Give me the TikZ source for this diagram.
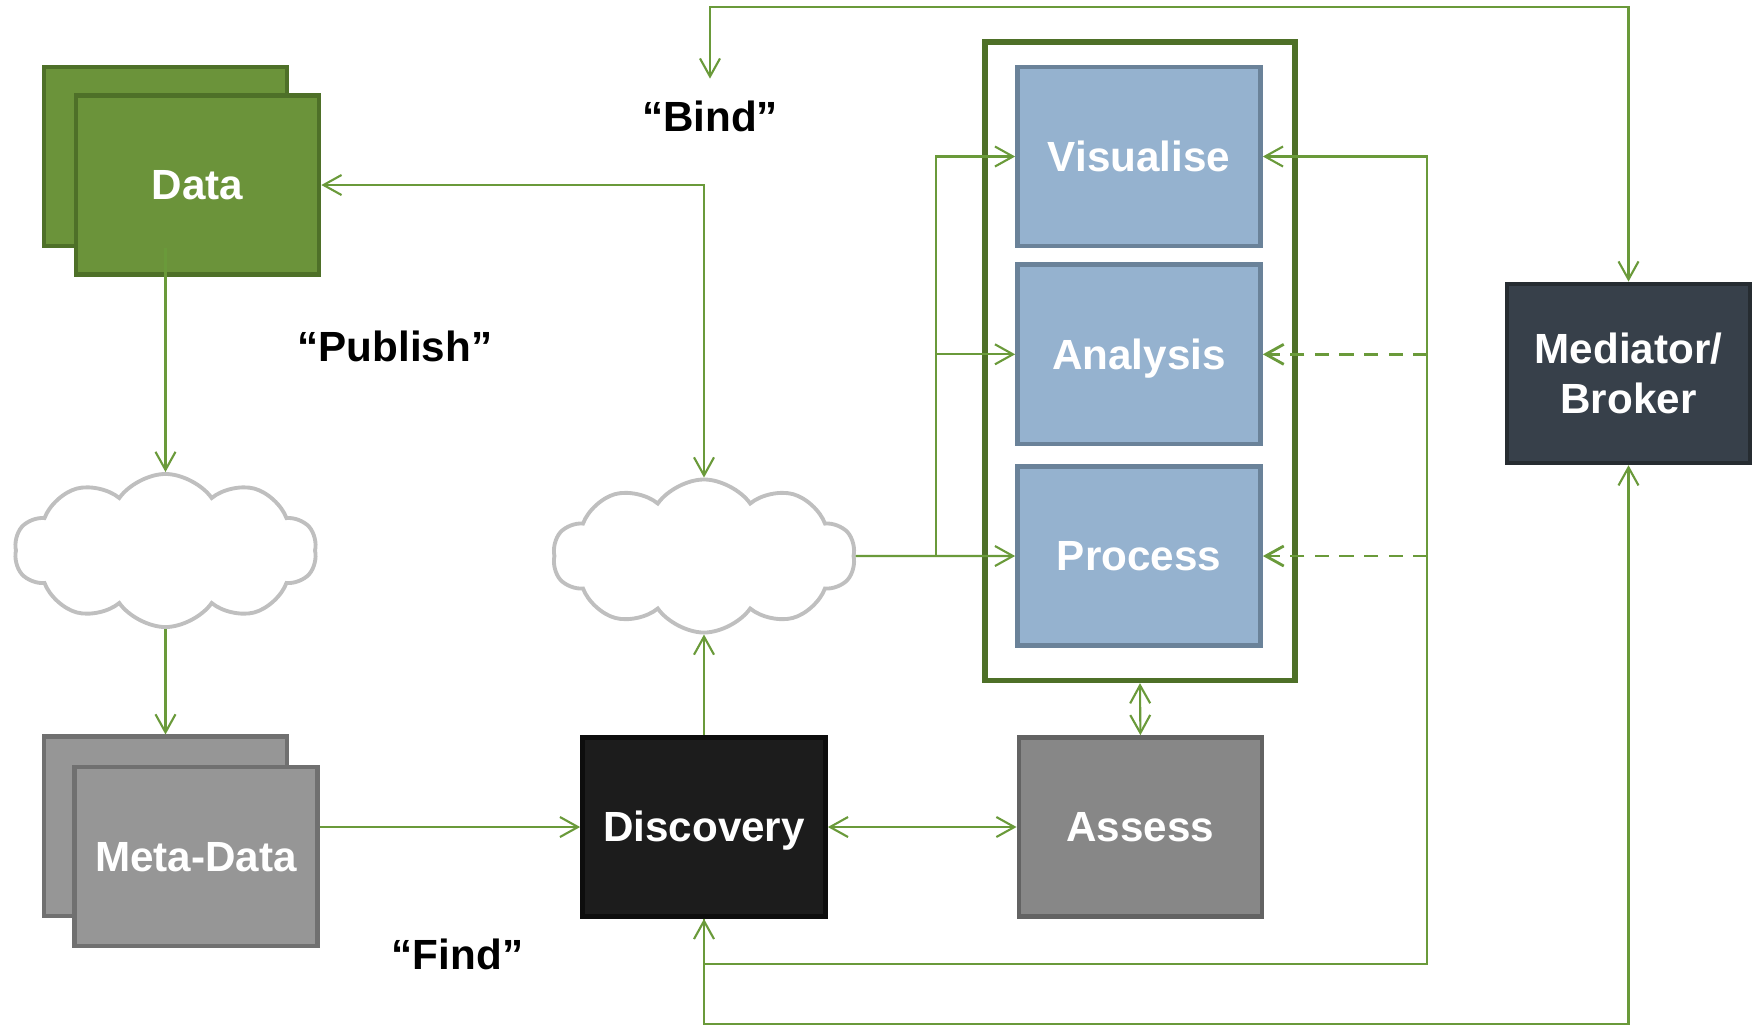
\documentclass[tikz,border=0pt]{standalone}
\usepackage{fontspec}
\setmainfont{Liberation Sans}
\usetikzlibrary{arrows.meta,shapes.symbols}

\definecolor{linkgreen}{HTML}{6A9A3A}
\definecolor{datafill}{HTML}{6B933A}
\definecolor{dataedge}{HTML}{4E7028}
\definecolor{toolfill}{HTML}{95B2CF}
\definecolor{tooledge}{HTML}{6A8299}
\definecolor{metafill}{HTML}{969696}
\definecolor{metaedge}{HTML}{707070}
\definecolor{assessfill}{HTML}{878787}
\definecolor{assessedge}{HTML}{636363}
\definecolor{brokerfill}{HTML}{37404A}
\definecolor{brokeredge}{HTML}{262C31}
\definecolor{cloudgray}{HTML}{BFBFBF}

\tikzset{
	block/.style={rectangle, draw, line width=1.3pt, minimum width=2.43cm, minimum height=1.79cm,
		text=white, font=\fontsize{12}{14}\selectfont\bfseries, align=center},
	tag/.style={block, text height=0.85em, text depth=0pt},
	link/.style={draw=linkgreen, line width=0.6pt},
	dashlink/.style={draw=linkgreen, line width=0.8pt, dash pattern=on 4pt off 3pt},
	web/.style={cloud, cloud puffs=10, cloud puff arc=110, aspect=2, draw=cloudgray, line width=1.1pt,
		minimum width=3.02cm, minimum height=1.53cm},
	verb/.style={font=\fontsize{12}{14}\selectfont\bfseries}
}

\begin{document}
\begin{tikzpicture}[x=0.01cm, y=-0.01cm, >={Straight Barb[length=1.8mm, width=2mm]}]
	\useasboundingbox (0,0) rectangle (1763,1026);

	% Data and meta-data stacks
		\node [tag, fill=datafill, draw=dataedge] (databack) at (165.5,156.5) {};
		\node [tag, fill=datafill, draw=dataedge] (data) at (197.5,185) {Data};
		\node [tag, fill=metafill, draw=metaedge] (metaback) at (165.5,826.3) {};
		\node [tag, fill=metafill, draw=metaedge] (meta) at (196,856.5) {Meta-Data};

	% The two clouds
		\node [web] (webl) at (165.5,550.5) {};
		\node [web] (webr) at (704,556) {};

	% Discovery, assess and the broker
		\node [tag, fill=black!89, draw=black!95] (disc) at (704,827) {Discovery};
		\node [tag, fill=assessfill, draw=assessedge] (assess) at (1140.4,827) {Assess};
		\node [block, fill=brokerfill, draw=brokeredge] (med) at (1628.5,373.4) {Mediator/\\Broker};

	% The tools inside their frame
		\foreach \name/\lab/\y in {vis/Visualise/156.5, ana/Analysis/354.3, proc/Process/556} {
			\node [tag, fill=toolfill, draw=tooledge] (\name) at (1139,\y) {\lab};
			}
		\node [draw=dataedge, line width=1.5pt, minimum width=3.1cm, minimum height=6.38cm] (tools) at (1140,361.3) {};

	% Verbs
		\node [verb] (bind) at (710,116) {“Bind”};
		\node [verb] (publish) at (395,346.5) {“Publish”};
		\node [verb] (find) at (457.5,954.6) {“Find”};

	% Publish and find
		\draw [link, ->] (databack.south) -- (webl.north);
		\draw [link, ->] (webl.south) -- (metaback.north);
		\draw [link, ->] (meta.east |- disc.west) -- (disc.west);
		\draw [link, ->] (disc.north) -- (webr.south);
		\draw [link, <->] (data.east) -| (webr.north);
		\draw [link, <->] (disc.east) -- (assess.west);
		\draw [link, <->] (tools.south) -- (assess.north);

	% Cloud to the tools
		\coordinate (split) at (936,556);
		\draw [link, ->] (webr.east) -- (proc.west);
		\draw [link, ->] (split) |- (vis.west);
		\draw [link, ->] (split |- ana.west) -- (ana.west);

	% Inner loop back to discovery
		\coordinate (loopr) at (1427.4,964);
		\draw [link, <->] (vis.east) -| (loopr) -| (disc.south);
		\foreach \name in {ana, proc} {
			\draw [dashlink, ->] (loopr |- \name.east) -- (\name.east);
			}

	% Outer loop through the broker
		\coordinate (bindtip) at (710,78.6);
		\coordinate (topl) at (710,7.3);
		\coordinate (lowl) at (704,1024.4);
		\draw [link, <->] (bindtip) -- (topl) -| (med.north);
		\draw [link, ->] (disc.south) -- (lowl) -| (med.south);

\end{tikzpicture}
\end{document}
